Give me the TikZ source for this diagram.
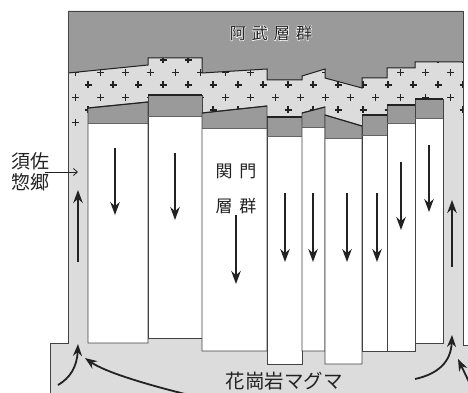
\documentclass[tikz,border=0pt]{standalone}
\usepackage{fontspec}
\newfontfamily\jp{Noto Sans CJK JP}
\newfontfamily\jphalo[FakeBold=6]{Noto Sans CJK JP}
\usetikzlibrary{arrows.meta}
\definecolor{rockdark}{HTML}{9A9A9A}
\definecolor{rocklight}{HTML}{DCDCDC}
\definecolor{ink}{HTML}{222222}
\begin{document}
\begin{tikzpicture}[x=1pt,y=-1pt,
  flow/.style={ink,line width=1.8pt,-{Stealth[length=13pt,width=9.5pt]}},
  curveflow/.style={ink,line width=1.8pt,-{Stealth[length=12pt,width=9pt]}},
  blockline/.style={draw=ink!85,line width=0.9pt},
  plussign/.style={ink,line width=1.1pt},
  label/.style={inner sep=0pt,text=ink,font=\jp}]
\useasboundingbox (0,0) rectangle (468,393);
\clip (0,0) rectangle (468,393);

% basement outline: channels and granite magma
\fill[rocklight] (68,11) -- (463,11) -- (463,345) -- (468,345) -- (468,393)
  -- (50,393) -- (50,343) -- (68,343) -- cycle;

% crosses of the intruded layer
\begin{scope}
  \clip (68,11) rectangle (463,128);
  \foreach \y in {60,85,110}
    \foreach \x in {88,113,...,463}
      \draw[plussign] (\x-3.5,\y) -- (\x+3.5,\y) (\x,\y-3.5) -- (\x,\y+3.5);
  \foreach \y in {72.5,97.5}
    \foreach \x in {75.5,100.5,...,450.5}
      \draw[plussign] (\x-3.5,\y) -- (\x+3.5,\y) (\x,\y-3.5) -- (\x,\y+3.5);
  \draw[plussign] (72,122.5) -- (79,122.5) (75.5,119) -- (75.5,126);
\end{scope}

% 阿武層群 cover
\fill[rockdark] (68,11) -- (463,11) -- (463,62) -- (415,62) -- (415,68)
  -- (387,68) -- (387,78) -- (362,78) -- (362,88) -- (325,78) -- (325,69)
  -- (302,76) -- (302,80) -- (267,80) -- (267,69) -- (202,73) -- (202,58)
  -- (148,58) -- (148,65) -- (68,73) -- cycle;
\draw[ink,line width=1pt] (68,73) -- (148,65) -- (148,58) -- (202,58)
  -- (202,73) -- (267,69) -- (267,80) -- (302,80) -- (302,76) -- (325,69)
  -- (325,78) -- (362,88) -- (362,78) -- (387,78) -- (387,68) -- (415,68)
  -- (415,62) -- (463,62);

% 関門層群 blocks: left, right, top-left, top-right, cap base, bottom
\foreach \xa/\xb/\ta/\tb/\cb/\bb in {
    88/148/108/102/123/343, 148/202/95/95/116/338, 202/267/113/106/128/351,
    267/302/117/117/136/364, 302/325/113/107/127/351, 325/362/115/126/138/364,
    362/387/115/115/135/351, 387/415/105/105/123/351, 415/443/99/99/118/343} {
  \fill[white] (\xa,\cb) rectangle (\xb,\bb);
  \fill[rockdark] (\xa,\ta) -- (\xb,\tb) -- (\xb,\cb) -- (\xa,\cb) -- cycle;
  \draw[blockline] (\xa,\ta) -- (\xb,\tb) -- (\xb,\bb) -- (\xa,\bb) -- cycle;
  \draw[ink!70,line width=0.6pt] (\xa,\cb) -- (\xb,\cb);
  \draw[ink,line width=1.1pt] (\xa,\ta) -- (\xb,\tb);
}

% frame
\draw[ink!85,line width=0.9pt] (50,393) -- (50,343) -- (68,343) -- (68,11)
  -- (463,11) -- (463,345) -- (468,345);

% subsidence of the blocks
\foreach \x/\ya/\yb [count=\i] in {115/148/215, 175/153/220, 236/215/284,
    285/193/262, 313/193/262, 347/193/262, 377/193/262, 401/162/230, 429/145/212} {
  \coordinate (sink\i-s) at (\x,\ya);
  \coordinate (sink\i-e) at (\x,\yb);
  \draw[flow] (sink\i-s) -- (sink\i-e);
}

% magma rising in the marginal channels
\coordinate (riseL-s) at (78,262);
\coordinate (riseL-e) at (78,190);
\coordinate (riseR-s) at (452,267);
\coordinate (riseR-e) at (452,200);
\draw[flow] (riseL-s) -- (riseL-e);
\draw[flow] (riseR-s) -- (riseR-e);

\coordinate (feedA-s) at (58,385);
\coordinate (feedA-e) at (78,344);
\coordinate (feedB-s) at (185,394);
\coordinate (feedB-e) at (85,358);
\coordinate (feedC-s) at (415,379);
\coordinate (feedC-e) at (452,335);
\coordinate (feedD-s) at (470,384);
\coordinate (feedD-e) at (458,359);
\draw[curveflow] (feedA-s) .. controls (70,378) and (77,367) .. (feedA-e);
\draw[curveflow] (feedB-s) .. controls (145,384) and (105,372) .. (feedB-e);
\draw[curveflow] (feedC-s) .. controls (438,374) and (451,362) .. (feedC-e);
\draw[curveflow] (feedD-s) -- (feedD-e);

% labels; the cover label sits on a white halo
\node[inner sep=0pt,text=white,font=\jphalo\fontsize{16.5}{18}\selectfont]
  (abu-halo) at (271,33) {阿\hspace{5.5pt}武\hspace{5.5pt}層\hspace{5.5pt}群};
\node[label,font=\jp\fontsize{16.5}{18}\selectfont] (abu) at (271,33)
  {阿\hspace{5.5pt}武\hspace{5.5pt}層\hspace{5.5pt}群};

\node[label,font=\jp\fontsize{17}{19}\selectfont] (kanmon1) at (236,171)
  {関\hspace{7pt}門};
\node[label,font=\jp\fontsize{17}{19}\selectfont] (kanmon2) at (236,206)
  {層\hspace{7pt}群};

\node[label,font=\jp\fontsize{19}{21}\selectfont,align=center] (susa) at (31,172)
  {須佐\\惣郷};
\coordinate (susa-tip) at (78,172);
\draw[ink,line width=0.8pt,-{Straight Barb[length=4pt,width=7pt]}] (45,172) -- (susa-tip);

\node[label,font=\jp\fontsize{19.5}{21}\selectfont] (magma) at (284,381)
  {花崗岩マグマ};
\end{tikzpicture}
\end{document}
